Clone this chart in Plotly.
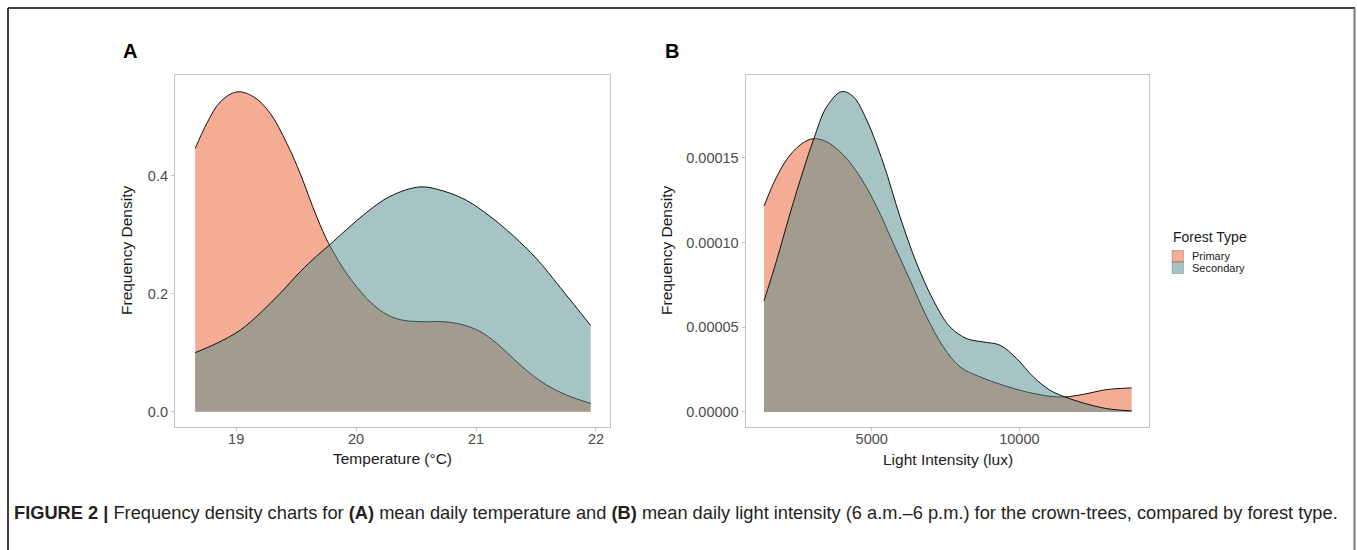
import plotly.graph_objects as go

W, H = 1357, 550

# ---------------- Data ----------------
forest_types = ["Primary", "Secondary"]

# Panel A: temperature (°C) density
temp_primary_x = [18.658, 18.756, 18.867, 19.006, 19.144, 19.283, 19.422, 19.533, 19.672, 19.778,
                  19.922, 20.089, 20.228, 20.367, 20.533, 20.728, 20.894, 21.033, 21.172, 21.311,
                  21.45, 21.589, 21.756, 21.956]
temp_primary_y = [0.446, 0.489, 0.525, 0.542, 0.534, 0.506, 0.455, 0.404, 0.330, 0.2825,
                  0.234, 0.192, 0.168, 0.156, 0.1525, 0.1525, 0.147, 0.136, 0.116, 0.090,
                  0.065, 0.045, 0.028, 0.014]
temp_secondary_x = [18.658, 18.839, 19.033, 19.2, 19.367, 19.533, 19.672, 19.778, 19.922, 20.089,
                    20.283, 20.533, 20.728, 20.922, 21.117, 21.311, 21.506, 21.7, 21.956]
temp_secondary_y = [0.100, 0.116, 0.138, 0.167, 0.2006, 0.237, 0.264, 0.2825, 0.309, 0.338,
                    0.365, 0.381, 0.374, 0.358, 0.331, 0.298, 0.259, 0.211, 0.146]

# Panel B: light intensity (lux) density
light_primary_x = [1354, 1783, 2235, 2686, 3025, 3476, 4041, 4605, 5169, 5734, 6298, 6862, 7427,
                   7991, 8668, 9458, 10248, 11038, 11546, 12167, 12957, 13804]
light_primary_y = [1.215e-4, 1.388e-4, 1.516e-4, 1.589e-4, 1.612e-4, 1.594e-4, 1.516e-4, 1.388e-4,
                   1.211e-4, 0.994e-4, 0.778e-4, 0.561e-4, 0.384e-4, 0.266e-4, 0.207e-4, 0.157e-4,
                   0.118e-4, 0.0925e-4, 0.089e-4, 0.104e-4, 0.132e-4, 0.142e-4]
light_secondary_x = [1354, 1783, 2235, 2686, 3025, 3476, 3984, 4379, 4831, 5395, 5959, 6524, 7088,
                     7652, 8217, 8781, 9345, 9910, 10474, 11038, 11546, 12167, 12957, 13804]
light_secondary_y = [0.656e-4, 0.896e-4, 1.171e-4, 1.427e-4, 1.604e-4, 1.801e-4, 1.890e-4, 1.860e-4,
                     1.722e-4, 1.467e-4, 1.152e-4, 0.876e-4, 0.659e-4, 0.502e-4, 0.433e-4, 0.413e-4,
                     0.394e-4, 0.315e-4, 0.207e-4, 0.128e-4, 0.089e-4, 0.053e-4, 0.020e-4, 0.006e-4]

temp_ticks = [19, 20, 21, 22]
temp_yticks = [0.0, 0.2, 0.4]
light_ticks = [5000, 10000]
light_yticks = [0.0, 0.00005, 0.00010, 0.00015]

# ---------------- Styling ----------------
fill_colors = {"Primary": "rgba(235,89,41,0.5)", "Secondary": "rgba(80,137,138,0.5)"}
axis_gray = "#C4C4C4"
FONT = "Liberation Sans, Arial, sans-serif"
tick_font = dict(family=FONT, size=14.5, color="#4D4D4D")
title_font = dict(family=FONT, size=15.5, color="#1A1A1A")


def px_x(p):
    return p / W


def px_y(p):
    return 1 - p / H


fig = go.Figure()

series = [
    ("x", "y", temp_primary_x, temp_primary_y, "Primary"),
    ("x", "y", temp_secondary_x, temp_secondary_y, "Secondary"),
    ("x2", "y2", light_primary_x, light_primary_y, "Primary"),
    ("x2", "y2", light_secondary_x, light_secondary_y, "Secondary"),
]
for xa, ya, xs, ys, name in series:
    fig.add_trace(go.Scatter(
        x=xs, y=ys, xaxis=xa, yaxis=ya, name=name, legendgroup=name, showlegend=False,
        mode="lines", line=dict(color="#111111", width=1, shape="spline", smoothing=1.0),
        fill="tozeroy", fillcolor=fill_colors[name], hoverinfo="skip",
    ))

y_dom = [px_y(427), px_y(75)]
common_axis = dict(showline=True, mirror=True, linecolor=axis_gray, linewidth=1.2,
                   showgrid=False, zeroline=False, ticks="outside", ticklen=3,
                   tickcolor=axis_gray, tickfont=tick_font)

fig.update_layout(
    width=W, height=H,
    margin=dict(l=0, r=0, t=0, b=0),
    paper_bgcolor="white", plot_bgcolor="white",
    xaxis=dict(domain=[px_x(175), px_x(610)], range=[18.49, 22.117], tickvals=temp_ticks,
               anchor="y", ticklabelstandoff=-5, **common_axis),
    yaxis=dict(domain=y_dom, range=[-0.026, 0.5707], tickvals=temp_yticks, tickformat=".1f",
               anchor="x", **common_axis),
    xaxis2=dict(domain=[px_x(745.7), px_x(1149)], range=[733, 14391], tickvals=light_ticks,
                tickformat="d", anchor="y2", ticklabelstandoff=-5, **common_axis),
    yaxis2=dict(domain=y_dom, range=[-8.86e-6, 1.988e-4], tickvals=light_yticks, tickformat=".5f",
                anchor="x2", **common_axis),
    showlegend=False,
)

annotations = [
    dict(text="<b>A</b>", x=px_x(121), y=px_y(51), xanchor="left", yanchor="middle",
         font=dict(family=FONT, size=20, color="black")),
    dict(text="<b>B</b>", x=px_x(663), y=px_y(51), xanchor="left", yanchor="middle",
         font=dict(family=FONT, size=20, color="black")),
    dict(text="Frequency Density", x=px_x(127), y=px_y(251), textangle=-90,
         xanchor="center", yanchor="middle", font=title_font),
    dict(text="Frequency Density", x=px_x(667), y=px_y(251), textangle=-90,
         xanchor="center", yanchor="middle", font=title_font),
    dict(text="Temperature (°C)", x=px_x(392), y=px_y(458), xanchor="center", yanchor="middle",
         font=title_font),
    dict(text="Light Intensity (lux)", x=px_x(948), y=px_y(459), xanchor="center", yanchor="middle",
         font=title_font),
    # legend
    dict(text="Forest Type", x=px_x(1171), y=px_y(237), xanchor="left", yanchor="middle",
         font=dict(family=FONT, size=14, color="#1A1A1A")),
    dict(text=forest_types[0], x=px_x(1190), y=px_y(256), xanchor="left", yanchor="middle",
         font=dict(family=FONT, size=11, color="#1A1A1A")),
    dict(text=forest_types[1], x=px_x(1190), y=px_y(267.5), xanchor="left", yanchor="middle",
         font=dict(family=FONT, size=11, color="#1A1A1A")),
    dict(text="<b>FIGURE 2 |</b> Frequency density charts for <b>(A)</b> mean daily temperature and "
              "<b>(B)</b> mean daily light intensity (6 a.m.–6 p.m.) for the crown-trees, "
              "compared by forest type.",
         x=px_x(12), y=px_y(512), xanchor="left", yanchor="middle",
         font=dict(family=FONT, size=18.25, color="#231F20")),
]
for a in annotations:
    a.update(xref="paper", yref="paper", showarrow=False)
fig.update_layout(annotations=annotations)

shapes = [
    # legend keys
    dict(type="rect", x0=px_x(1172), x1=px_x(1183.5), y0=px_y(262), y1=px_y(250.5),
         fillcolor=fill_colors["Primary"], line=dict(color="rgba(0,0,0,0.35)", width=0.6)),
    dict(type="rect", x0=px_x(1172), x1=px_x(1183.5), y0=px_y(273.5), y1=px_y(262),
         fillcolor=fill_colors["Secondary"], line=dict(color="rgba(0,0,0,0.35)", width=0.6)),
    # figure frame
    dict(type="line", x0=px_x(8), x1=px_x(1355), y0=px_y(8), y1=px_y(8), line=dict(color="black", width=1.5)),
    dict(type="line", x0=px_x(8), x1=px_x(8), y0=px_y(8), y1=px_y(560), line=dict(color="black", width=1.5)),
    dict(type="line", x0=px_x(1354.5), x1=px_x(1354.5), y0=px_y(8), y1=px_y(560), line=dict(color="#777777", width=2)),
]
for s in shapes:
    s.update(xref="paper", yref="paper")
fig.update_layout(shapes=shapes)

fig.write_html("out.html", config={"displayModeBar": False},
               post_script="document.body.style.margin='0';document.body.style.padding='0';")
